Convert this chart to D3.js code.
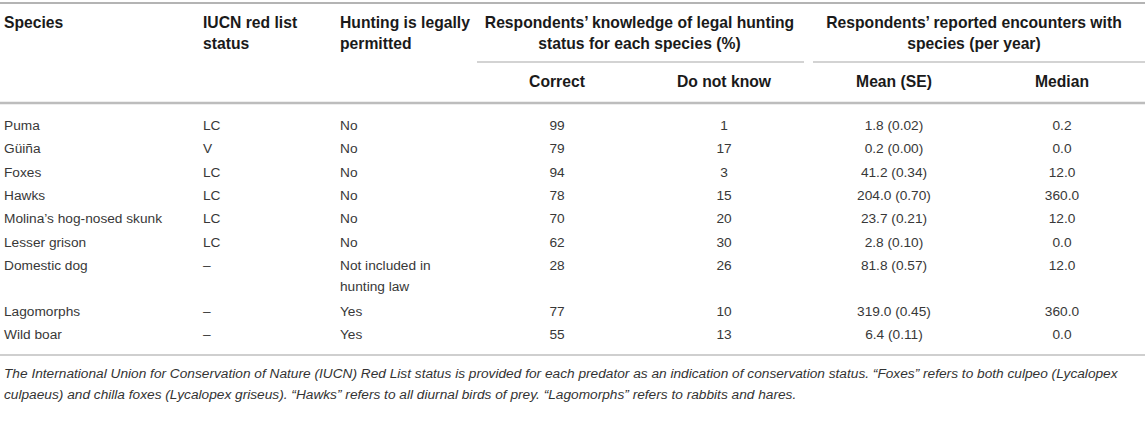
<!DOCTYPE html>
<html>
<head>
<meta charset="utf-8">
<script src="https://cdn.jsdelivr.net/npm/d3@7"></script>
<style>
  html, body { margin: 0; padding: 0; background: #fff; }
  svg { display: block; font-family: "Liberation Sans", Arial, Helvetica, sans-serif; }
</style>
</head>
<body>
<div id="table"></div>
<script>
// table contents
const species = ["Puma", "Güiña", "Foxes", "Hawks", "Molina’s hog-nosed skunk",
  "Lesser grison", "Domestic dog", "Lagomorphs", "Wild boar"];
const iucnStatus = ["LC", "V", "LC", "LC", "LC", "LC", "–", "–", "–"];
const huntingLegal = ["No", "No", "No", "No", "No", "No", "Not included in hunting law", "Yes", "Yes"];
const pctCorrect = [99, 79, 94, 78, 70, 62, 28, 77, 55];
const pctDoNotKnow = [1, 17, 3, 15, 20, 30, 26, 10, 13];
const encounterMean = [1.8, 0.2, 41.2, 204.0, 23.7, 2.8, 81.8, 319.0, 6.4];
const encounterSE = [0.02, 0.00, 0.34, 0.70, 0.21, 0.10, 0.57, 0.45, 0.11];
const encounterMedian = [0.2, 0.0, 12.0, 360.0, 12.0, 0.0, 12.0, 360.0, 0.0];

const headerLeft = [
  ["Species"],
  ["IUCN red list", "status"],
  ["Hunting is legally", "permitted"]
];
const groupHeaders = [
  ["Respondents’ knowledge of legal hunting", "status for each species (%)"],
  ["Respondents’ reported encounters with", "species (per year)"]
];
const subHeaders = ["Correct", "Do not know", "Mean (SE)", "Median"];
const footnote = [
  "The International Union for Conservation of Nature (IUCN) Red List status is provided for each predator as an indication of conservation status. “Foxes” refers to both culpeo (Lycalopex",
  "culpaeus) and chilla foxes (Lycalopex griseus). “Hawks” refers to all diurnal birds of prey. “Lagomorphs” refers to rabbits and hares."
];

const width = 1145;
const height = 428;

const svg = d3.select("#table").append("svg")
  .attr("width", width)
  .attr("height", height)
  .attr("viewBox", `0 0 ${width} ${height}`);

// column positions
const leftCol = d3.scaleOrdinal().domain(["species", "iucn", "hunting"]).range([4, 203, 340]);
const numCol = d3.scaleOrdinal().domain(subHeaders).range([557, 724, 894, 1062]);
const groupSpan = [[477, 804], [813, 1145]];

const rule = (x1, x2, y, w, c) => svg.append("line")
  .attr("x1", x1).attr("x2", x2).attr("y1", y).attr("y2", y)
  .attr("stroke", c).attr("stroke-width", w);

rule(0, width, 3, 2, "#b4b4b4");
groupSpan.forEach(([a, b]) => rule(a, b, 62, 1.2, "#a8a8a8"));
rule(0, width, 103, 2.5, "#bdbdbd");

const headY = [23, 43.5];
const headSize = 15.7;

// header cells
headerLeft.forEach((lines, i) => {
  svg.append("text")
    .attr("font-weight", "bold")
    .attr("font-size", headSize)
    .attr("fill", "#1a1a1a")
    .selectAll("tspan")
    .data(lines)
    .join("tspan")
    .attr("x", leftCol.range()[i])
    .attr("y", (d, j) => headY[j])
    .attr("dy", "0.35em")
    .text((d) => d);
});

groupHeaders.forEach((lines, i) => {
  svg.append("text")
    .attr("font-weight", "bold")
    .attr("font-size", headSize)
    .attr("fill", "#1a1a1a")
    .attr("text-anchor", "middle")
    .selectAll("tspan")
    .data(lines)
    .join("tspan")
    .attr("x", (groupSpan[i][0] + groupSpan[i][1]) / 2 + (i === 1 ? -5 : -1))
    .attr("y", (d, j) => headY[j])
    .attr("dy", "0.35em")
    .text((d) => d);
});

svg.append("g")
  .selectAll("text")
  .data(subHeaders)
  .join("text")
  .attr("x", (d) => numCol(d))
  .attr("y", 82)
  .attr("dy", "0.35em")
  .attr("text-anchor", "middle")
  .attr("font-weight", "bold")
  .attr("font-size", headSize)
  .attr("fill", "#1a1a1a")
  .text((d) => d);

// word wrap helper for the hunting column
const bodySize = 13.7;
const measure = svg.append("text").attr("font-size", bodySize).attr("visibility", "hidden");
function wrap(str, maxW) {
  const words = str.split(" ");
  const lines = [];
  let cur = "";
  words.forEach((w) => {
    const test = cur ? cur + " " + w : w;
    measure.text(test);
    if (cur && measure.node().getComputedTextLength() > maxW) {
      lines.push(cur);
      cur = w;
    } else cur = test;
  });
  lines.push(cur);
  return lines;
}
const huntingLines = huntingLegal.map((s) => wrap(s, 125));
measure.remove();

// row layout
const rowStep = 23.4;
const lineStep = 21;
const rowY = [];
let y = 125;
huntingLines.forEach((lines) => {
  rowY.push(y);
  y += rowStep + (lines.length - 1) * (lineStep + 1.5);
});

const rows = svg.append("g")
  .attr("font-size", bodySize)
  .attr("fill", "#383838")
  .selectAll("g")
  .data(species)
  .join("g")
  .attr("transform", (d, i) => `translate(0,${rowY[i]})`);

rows.append("text").attr("x", leftCol("species")).attr("dy", "0.35em").text((d) => d);
rows.append("text").attr("x", leftCol("iucn")).attr("dy", "0.35em").text((d, i) => iucnStatus[i]);
rows.append("text")
  .selectAll("tspan")
  .data((d, i) => huntingLines[i])
  .join("tspan")
  .attr("x", leftCol("hunting"))
  .attr("y", (d, j) => j * lineStep)
  .attr("dy", "0.35em")
  .text((d) => d);

const cellText = [
  (i) => pctCorrect[i],
  (i) => pctDoNotKnow[i],
  (i) => `${encounterMean[i].toFixed(1)} (${encounterSE[i].toFixed(2)})`,
  (i) => encounterMedian[i].toFixed(1)
];
subHeaders.forEach((key, k) => {
  rows.append("text")
    .attr("x", numCol(key))
    .attr("dy", "0.35em")
    .attr("text-anchor", "middle")
    .text((d, i) => cellText[k](i));
});

rule(0, width, 355, 1.2, "#a0a0a0");

svg.append("g")
  .attr("font-size", 13.7)
  .attr("font-style", "italic")
  .attr("fill", "#333")
  .selectAll("text")
  .data(footnote)
  .join("text")
  .attr("x", 4)
  .attr("y", (d, i) => 373 + i * 21)
  .attr("dy", "0.35em")
  .text((d) => d);
</script>
</body>
</html>
